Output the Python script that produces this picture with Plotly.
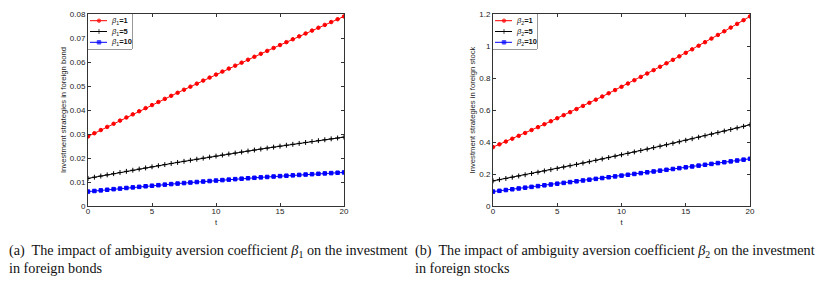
import plotly.graph_objects as go

t = [i * 0.5 for i in range(41)]

bond_beta1_1 = [0.02900, 0.03032, 0.03164, 0.03296, 0.03427, 0.03558, 0.03688, 0.03818, 0.03948, 0.04077,
                0.04206, 0.04335, 0.04463, 0.04591, 0.04718, 0.04845, 0.04972, 0.05098, 0.05224, 0.05350,
                0.05475, 0.05600, 0.05724, 0.05848, 0.05972, 0.06095, 0.06218, 0.06341, 0.06463, 0.06585,
                0.06706, 0.06827, 0.06948, 0.07068, 0.07188, 0.07308, 0.07427, 0.07546, 0.07664, 0.07782, 0.07900]
bond_beta1_5 = [0.01150, 0.01200, 0.01249, 0.01298, 0.01347, 0.01396, 0.01444, 0.01491, 0.01539, 0.01586,
                0.01633, 0.01679, 0.01725, 0.01770, 0.01816, 0.01861, 0.01905, 0.01949, 0.01993, 0.02037,
                0.02080, 0.02123, 0.02165, 0.02207, 0.02249, 0.02291, 0.02332, 0.02372, 0.02413, 0.02453,
                0.02493, 0.02532, 0.02571, 0.02609, 0.02648, 0.02686, 0.02723, 0.02760, 0.02797, 0.02834, 0.02870]
bond_beta1_10 = [0.00600, 0.00626, 0.00651, 0.00677, 0.00702, 0.00726, 0.00751, 0.00775, 0.00798, 0.00822,
                 0.00845, 0.00868, 0.00890, 0.00913, 0.00935, 0.00956, 0.00978, 0.00999, 0.01019, 0.01040,
                 0.01060, 0.01080, 0.01099, 0.01119, 0.01138, 0.01156, 0.01175, 0.01193, 0.01210, 0.01228,
                 0.01245, 0.01262, 0.01278, 0.01295, 0.01311, 0.01326, 0.01342, 0.01357, 0.01371, 0.01386, 0.01400]

stock_beta2_1 = [0.3680, 0.3854, 0.4029, 0.4205, 0.4384, 0.4563, 0.4745, 0.4928, 0.5112, 0.5299,
                 0.5486, 0.5676, 0.5866, 0.6059, 0.6253, 0.6448, 0.6646, 0.6844, 0.7045, 0.7247,
                 0.7450, 0.7655, 0.7862, 0.8070, 0.8280, 0.8491, 0.8704, 0.8918, 0.9134, 0.9352,
                 0.9571, 0.9792, 1.0014, 1.0238, 1.0464, 1.0691, 1.0920, 1.1150, 1.1382, 1.1615, 1.1850]
stock_beta2_5 = [0.1570, 0.1646, 0.1722, 0.1799, 0.1876, 0.1954, 0.2033, 0.2112, 0.2192, 0.2273,
                 0.2354, 0.2436, 0.2518, 0.2601, 0.2685, 0.2769, 0.2854, 0.2940, 0.3026, 0.3113,
                 0.3200, 0.3288, 0.3377, 0.3466, 0.3556, 0.3647, 0.3738, 0.3830, 0.3922, 0.4015,
                 0.4109, 0.4203, 0.4298, 0.4394, 0.4490, 0.4587, 0.4684, 0.4782, 0.4881, 0.4980, 0.5080]
stock_beta2_10 = [0.0900, 0.0949, 0.0998, 0.1047, 0.1096, 0.1145, 0.1195, 0.1244, 0.1294, 0.1344,
                  0.1394, 0.1444, 0.1494, 0.1544, 0.1595, 0.1645, 0.1696, 0.1747, 0.1798, 0.1849,
                  0.1900, 0.1951, 0.2003, 0.2054, 0.2106, 0.2158, 0.2210, 0.2262, 0.2314, 0.2366,
                  0.2419, 0.2471, 0.2524, 0.2577, 0.2630, 0.2683, 0.2736, 0.2789, 0.2843, 0.2896, 0.2950]

beta_values = ["1", "5", "10"]
x_ticks = [0, 5, 10, 15, 20]
bond_ticks = [0, 0.01, 0.02, 0.03, 0.04, 0.05, 0.06, 0.07, 0.08]
bond_tick_text = ["0", "0.01", "0.02", "0.03", "0.04", "0.05", "0.06", "0.07", "0.08"]
stock_ticks = [0, 0.2, 0.4, 0.6, 0.8, 1.0, 1.2]
stock_tick_text = ["0", "0.2", "0.4", "0.6", "0.8", "1", "1.2"]

colors = ["#ff0000", "#000000", "#0000ff"]
symbols = ["circle", "cross-thin", "square"]
msizes = [3.5, 3.5, 3.5]

W, H = 827, 283
fig = go.Figure()

bond_series = [bond_beta1_1, bond_beta1_5, bond_beta1_10]
stock_series = [stock_beta2_1, stock_beta2_5, stock_beta2_10]


def add_series(series, xa, ya, sub):
    for i, ys in enumerate(series):
        fig.add_trace(go.Scatter(
            x=t, y=ys, mode="lines+markers", xaxis=xa, yaxis=ya, showlegend=False,
            name="β" + sub + "=" + beta_values[i],
            line=dict(color=colors[i], width=1),
            marker=dict(symbol=symbols[i], size=msizes[i], color=colors[i],
                        line=dict(color=colors[i], width=1)),
        ))


add_series(bond_series, "x", "y", "1")
add_series(stock_series, "x2", "y2", "2")

# compact MATLAB-style legends drawn on small hidden axes (pixel-like units)
leg_rows = [6.7, 17.5, 28.3]


def add_legend(xa, ya, sub):
    for i in range(3):
        fig.add_trace(go.Scatter(
            x=[2, 11, 19], y=[leg_rows[i]] * 3, mode="lines+markers", xaxis=xa, yaxis=ya,
            showlegend=False, hoverinfo="skip",
            line=dict(color=colors[i], width=1),
            marker=dict(symbol=symbols[i], size=[0, msizes[i], 0], color=colors[i],
                        line=dict(color=colors[i], width=1)),
        ))
        fig.add_annotation(xref=xa, yref=ya, x=20.5, y=leg_rows[i], xanchor="left", yanchor="middle",
                           text="<i>β</i><sub>" + sub + "</sub><b>=" + beta_values[i] + "</b>",
                           showarrow=False, font=dict(family="Liberation Sans, Arial", size=7.5, color="#111"))


tick_font = dict(family="Liberation Sans, Arial", size=8, color="#222")
title_font = dict(family="Liberation Sans, Arial", size=7.7, color="#222")
axis_common = dict(showline=True, linecolor="#333", linewidth=1, mirror="ticks",
                   ticks="inside", ticklen=3, tickcolor="#333", showgrid=False,
                   zeroline=False, tickfont=tick_font)
hidden = dict(visible=False, showgrid=False, zeroline=False, fixedrange=True)

ydom = [1 - 206 / H, 1 - 14 / H]
legdom_y = [1 - 49 / H, 1 - 14 / H]
fig.update_layout(
    width=W, height=H,
    margin=dict(l=0, r=0, t=0, b=0, autoexpand=False),
    paper_bgcolor="white", plot_bgcolor="white",
    showlegend=False,
    xaxis=dict(domain=[88 / W, 344 / W], range=[0, 20], tickvals=x_ticks, anchor="y",
               ticklabelstandoff=-3,
               title=dict(text="t", font=title_font, standoff=5), **axis_common),
    yaxis=dict(domain=ydom, range=[0, 0.08], tickvals=bond_ticks, ticktext=bond_tick_text, anchor="x",
               title=dict(text="Investment strategies in foreign bond", font=title_font, standoff=2),
               **axis_common),
    xaxis2=dict(domain=[493 / W, 750 / W], range=[0, 20], tickvals=x_ticks, anchor="y2",
                ticklabelstandoff=-3,
                title=dict(text="t", font=title_font, standoff=5), **axis_common),
    yaxis2=dict(domain=ydom, range=[0, 1.2], tickvals=stock_ticks, ticktext=stock_tick_text, anchor="x2",
                title=dict(text="Investment strategies in foreign stock", font=title_font, standoff=2),
                **axis_common),
    xaxis3=dict(domain=[88 / W, 132 / W], range=[0, 44], anchor="y3", **hidden),
    yaxis3=dict(domain=legdom_y, range=[35, 0], anchor="x3", **hidden),
    xaxis4=dict(domain=[493 / W, 537 / W], range=[0, 44], anchor="y4", **hidden),
    yaxis4=dict(domain=legdom_y, range=[35, 0], anchor="x4", **hidden),
)

for (x0, x1) in [(88, 132), (493, 537)]:
    fig.add_shape(type="rect", xref="paper", yref="paper", x0=x0 / W, x1=x1 / W,
                  y0=legdom_y[0], y1=legdom_y[1], line=dict(color="#333", width=1),
                  fillcolor="white", layer="below")

add_legend("x3", "y3", "1")
add_legend("x4", "y4", "2")

cap_font = dict(family="Liberation Serif, Times New Roman", size=14.2, color="#111")
fig.add_annotation(xref="paper", yref="paper", x=7 / W, y=1 - 251 / H, xanchor="left", yanchor="middle",
                   text="(a)  The impact of ambiguity aversion coefficient <i>β</i><sub>1</sub> on the investment",
                   showarrow=False, font=cap_font)
fig.add_annotation(xref="paper", yref="paper", x=7 / W, y=1 - 268 / H, xanchor="left", yanchor="middle",
                   text="in foreign bonds", showarrow=False, font=cap_font)
fig.add_annotation(xref="paper", yref="paper", x=413 / W, y=1 - 251 / H, xanchor="left", yanchor="middle",
                   text="(b)  The impact of ambiguity aversion coefficient <i>β</i><sub>2</sub> on the investment",
                   showarrow=False, font=cap_font)
fig.add_annotation(xref="paper", yref="paper", x=413 / W, y=1 - 268 / H, xanchor="left", yanchor="middle",
                   text="in foreign stocks", showarrow=False, font=cap_font)

fig.write_html("out.html", config={"displayModeBar": False},
               post_script="document.body.style.margin='0';")
